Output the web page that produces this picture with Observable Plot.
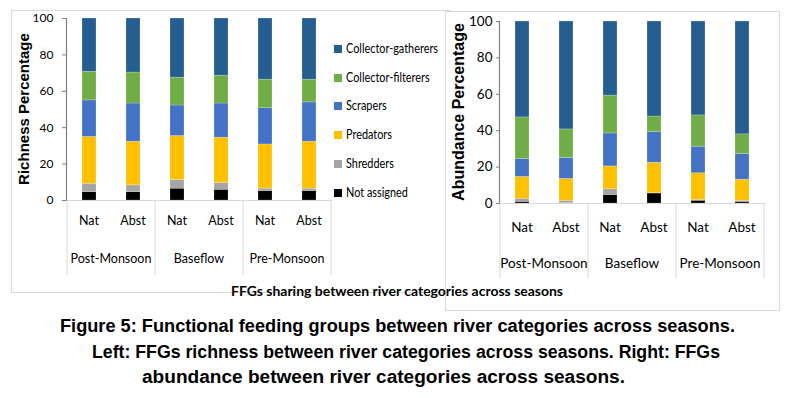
<!DOCTYPE html>
<html><head><meta charset="utf-8">
<script src="https://cdn.jsdelivr.net/npm/d3@7"></script>
<script src="https://cdn.jsdelivr.net/npm/@observablehq/plot@0.6"></script>
<style>
body{margin:0;background:#fff;}
#root{position:relative;width:788px;height:398px;overflow:hidden;font-family:Lato,"DejaVu Sans Condensed",sans-serif;}
.box{position:absolute;border:1px solid #d9d9d9;background:#fff;box-sizing:border-box;}
.leg{position:absolute;font-size:12.5px;color:#000;white-space:nowrap;line-height:14px;}
.leg .sw{display:inline-block;width:8px;height:8px;margin-right:4px;vertical-align:0px;}
.leg .tx{display:inline-block;transform:scaleX(0.87);transform-origin:0 50%;}
.cap{position:absolute;font-family:"Liberation Sans",Arial,sans-serif;font-weight:bold;font-size:18px;color:#000;white-space:nowrap;transform-origin:0 0;line-height:20px;}
</style></head>
<body><div id="root"></div>
<script>
const seasons = ["Post-Monsoon", "Baseflow", "Pre-Monsoon"];
const rivers = ["Nat", "Abst"];
const groups = ["Not assigned", "Shredders", "Predators", "Scrapers", "Collector-filterers", "Collector-gatherers"];
const colors = ["#000000", "#a5a5a5", "#ffc000", "#4472c4", "#70ad47", "#255e91"];
const yTicks = [0, 20, 40, 60, 80, 100];
// bar order: Post Nat, Post Abst, Base Nat, Base Abst, Pre Nat, Pre Abst
const richness = {
  "Not assigned":        [4.6, 4.6, 6.5, 5.9, 5.2, 5.2],
  "Shredders":           [4.6, 3.7, 4.8, 3.7, 1.3, 1.3],
  "Predators":           [25.7, 24.0, 24.1, 24.9, 24.3, 25.8],
  "Scrapers":            [20.1, 21.0, 16.8, 18.8, 19.9, 21.6],
  "Collector-filterers": [15.7, 17.0, 15.3, 15.3, 15.7, 12.5],
  "Collector-gatherers": [29.3, 29.7, 32.5, 31.4, 33.6, 33.6]
};
const abundance = {
  "Not assigned":        [0.9, 0.2, 4.7, 5.5, 1.5, 0.9],
  "Shredders":           [1.7, 1.3, 3.1, 0.2, 0.5, 0.6],
  "Predators":           [12.0, 12.0, 12.6, 16.7, 14.6, 11.6],
  "Scrapers":            [9.9, 11.5, 18.1, 16.8, 14.6, 14.1],
  "Collector-filterers": [22.8, 15.7, 20.8, 8.6, 17.2, 10.8],
  "Collector-gatherers": [52.7, 59.3, 40.7, 52.2, 51.6, 62.0]
};
const xTitle = "FFGs sharing between river categories across seasons";
const captionLines = [
  "Figure 5: Functional feeding groups between river categories across seasons.",
  "Left: FFGs richness between river categories across seasons. Right: FFGs",
  "abundance between river categories across seasons."
];

const FONT = 'Lato,"DejaVu Sans Condensed",sans-serif';
const root = document.getElementById("root");
const keys = [];
seasons.forEach(s => rivers.forEach(r => keys.push(s + "|" + r)));

function makeTable(vals) {
  const t = [];
  groups.forEach(g => keys.forEach((k, i) => t.push({key: k, group: g, value: vals[g][i]})));
  return t;
}

function makeChart(vals, o) {
  const table = makeTable(vals);
  const plot = Plot.plot({
    width: o.width, height: o.height,
    marginLeft: o.ml, marginRight: o.mr, marginTop: o.mt, marginBottom: o.mb,
    style: {fontFamily: FONT, fontSize: o.fs + "px", color: "#000", background: "transparent"},
    x: {domain: keys, padding: 0, axis: null},
    y: {domain: [0, 100], axis: null},
    color: {domain: groups, range: colors},
    marks: [
      Plot.barY(table, {x: "key", y: "value", fill: "group", z: "group", order: groups, insetLeft: o.inset, insetRight: o.inset, stroke: "#ffffff", strokeOpacity: 0.35, strokeWidth: 0.6}),
      Plot.frame({anchor: "bottom", stroke: "#d9d9d9"}),
      Plot.frame({anchor: "left", stroke: "#7f7f7f", strokeWidth: 1.2}),
      Plot.axisY({ticks: yTicks, tickSize: o.tickSize, tickPadding: o.tickPad, label: null, stroke: "#7f7f7f", fontSize: o.tfs})
    ]
  });
  const svg = d3.select(plot);
  const x = plot.scale("x"), y = plot.scale("y");
  const bw = x.bandwidth;
  const y0 = y.apply(0);
  const g = svg.append("g").attr("font-size", o.fs).attr("text-anchor", "middle").attr("fill", "#000");
  keys.forEach(k => {
    g.append("text").attr("x", x.apply(k) + bw / 2).attr("y", y0 + o.rivY).attr("dy", "0.35em").text(k.split("|")[1]);
  });
  seasons.forEach(s => {
    const x1 = x.apply(s + "|" + rivers[0]);
    g.append("text").attr("x", x1 + bw).attr("y", y0 + o.seaY).attr("dy", "0.35em").text(s);
    g.append("line").attr("x1", x1).attr("x2", x1).attr("y1", y0).attr("y2", y0 + o.divLen).attr("stroke", "#d9d9d9");
  });
  const xe = x.apply(keys[keys.length - 1]) + bw;
  g.append("line").attr("x1", xe).attr("x2", xe).attr("y1", y0).attr("y2", y0 + o.divLen).attr("stroke", "#d9d9d9");
  svg.append("text").attr("transform", `translate(${o.labX},${(y.apply(100) + y0) / 2}) rotate(-90)`)
    .attr("text-anchor", "middle").attr("dy", "0.35em").attr("font-family", '"Liberation Sans",Arial,sans-serif')
    .attr("font-weight", "bold").attr("font-size", o.labFs).attr("fill", "#000").text(o.label);
  plot.style.position = "absolute";
  plot.style.left = o.left + "px";
  plot.style.top = o.top + "px";
  return plot;
}

function addBox(l, t, w, h) {
  const d = document.createElement("div");
  d.className = "box";
  Object.assign(d.style, {left: l + "px", top: t + "px", width: w + "px", height: h + "px"});
  root.appendChild(d);
}

addBox(11, 10, 440, 283);
root.appendChild(makeChart(richness, {
  width: 420, height: 290, ml: 66, mr: 89, mt: 18, mb: 90, left: 0, top: 0, inset: 15,
  fs: 12.5, tfs: 12, tickSize: 4, tickPad: 9, rivY: 21, seaY: 59, divLen: 75,
  label: "Richness Percentage", labX: 24, labFs: 15
}));
// legend
groups.slice().reverse().forEach((gname, i) => {
  const d = document.createElement("div");
  d.className = "leg";
  d.style.left = "334px";
  d.style.top = (42 + i * 28.7) + "px";
  const sw = document.createElement("span");
  sw.className = "sw";
  sw.style.background = colors[groups.indexOf(gname)];
  const tx = document.createElement("span");
  tx.className = "tx";
  tx.textContent = gname;
  d.appendChild(sw);
  d.appendChild(tx);
  root.appendChild(d);
});
addBox(445, 11, 335, 300);
root.appendChild(makeChart(abundance, {
  width: 335, height: 305, ml: 54, mr: 16, mt: 21, mb: 102, left: 445, top: 0, inset: 15,
  fs: 13.5, tfs: 13.5, tickSize: 3, tickPad: 4, rivY: 24, seaY: 60, divLen: 75,
  label: "Abundance Percentage", labX: 13, labFs: 16
}));

function fitText(text, cls, centerX, top, targetW, extra) {
  const d = document.createElement("div");
  d.className = cls;
  d.textContent = text;
  if (extra) Object.assign(d.style, extra);
  root.appendChild(d);
  const w = d.getBoundingClientRect().width;
  const s = targetW / w;
  d.style.left = (centerX - targetW / 2) + "px";
  d.style.top = top + "px";
  d.style.transform = `scaleX(${s})`;
}
fitText(xTitle, "cap", 397, 283, 332, {fontFamily: FONT, fontSize: "14px", lineHeight: "16px"});
fitText(captionLines[0], "cap", 397.5, 316, 675);
fitText(captionLines[1], "cap", 406, 342, 628);
fitText(captionLines[2], "cap", 383.5, 367, 483);
</script></body></html>
